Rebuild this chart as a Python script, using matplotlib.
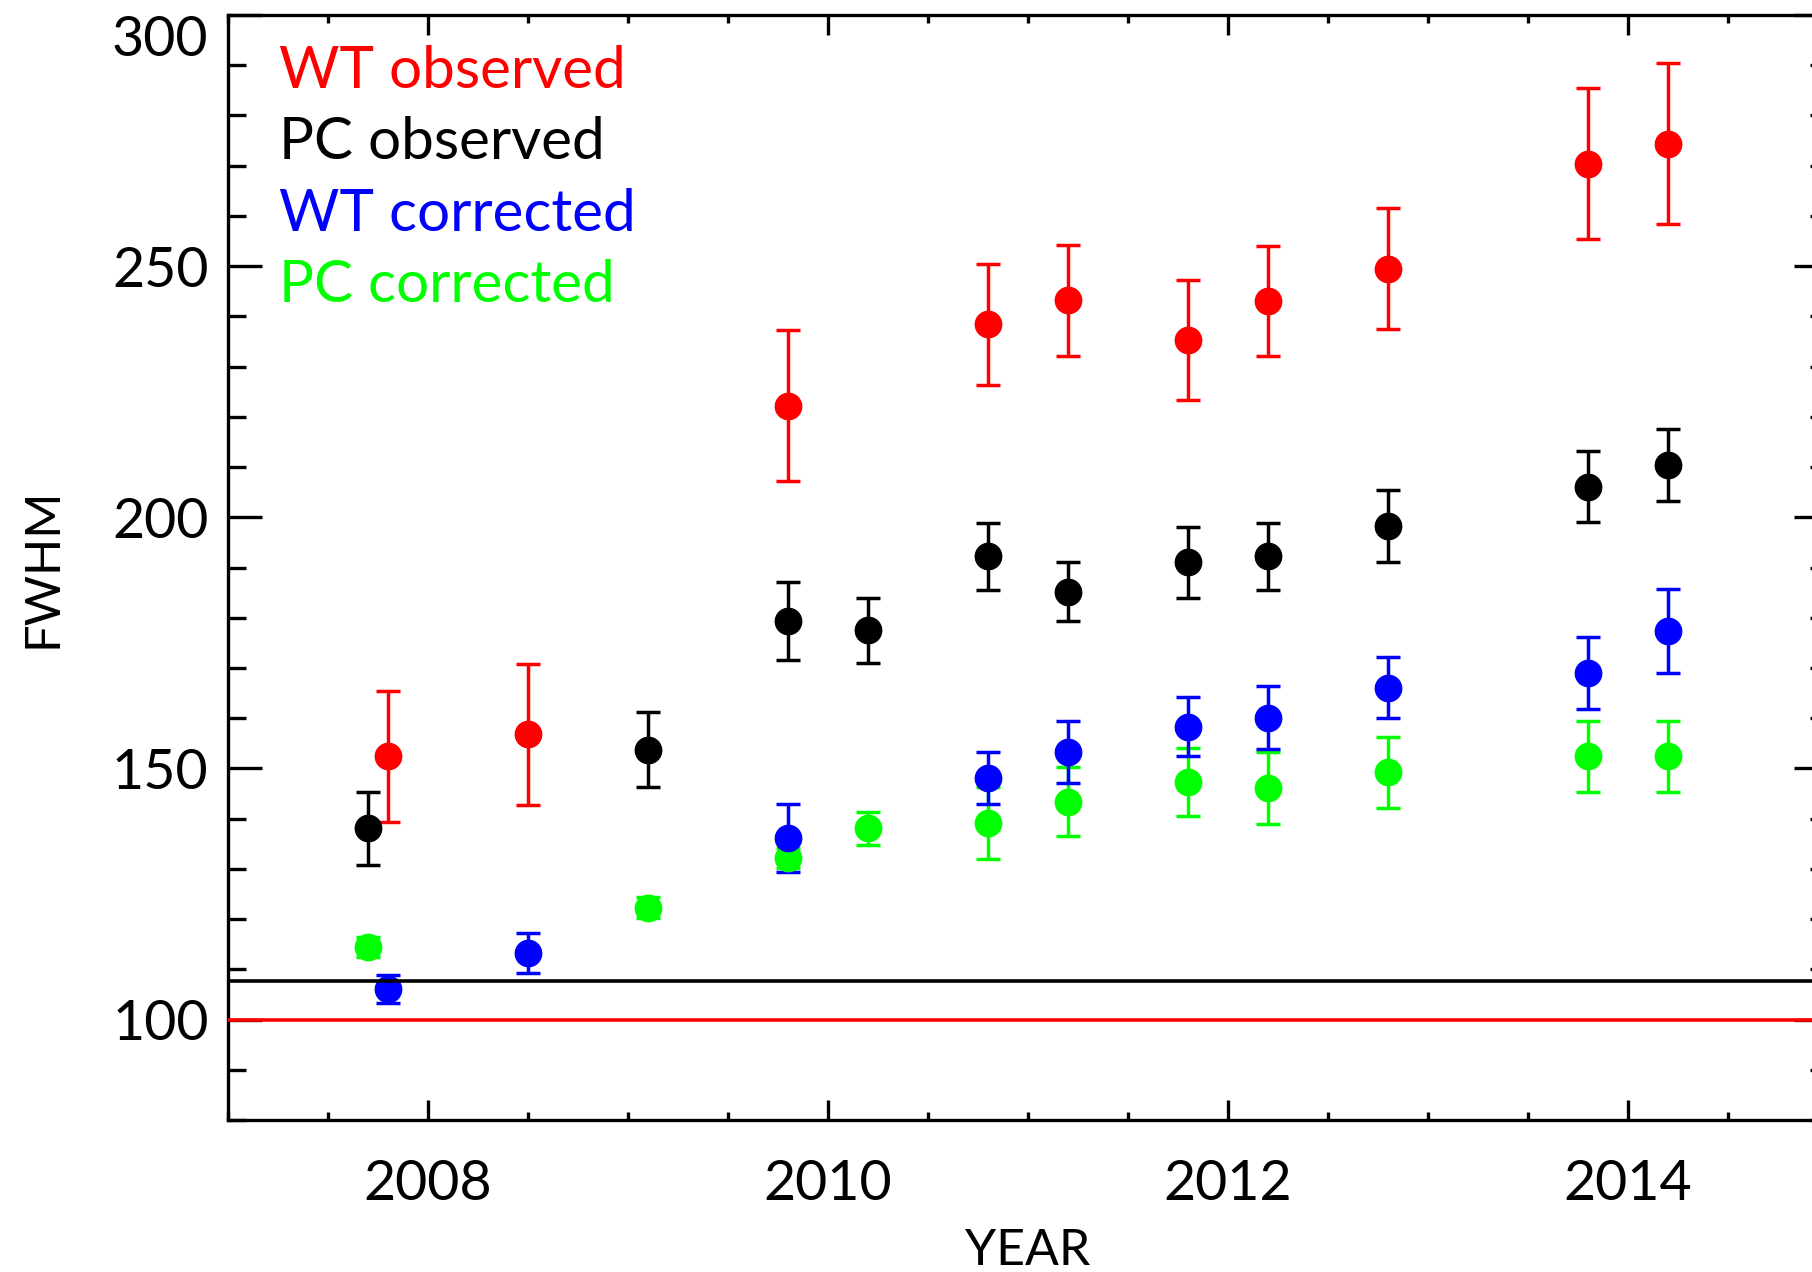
import matplotlib.pyplot as plt
from matplotlib.ticker import MultipleLocator, FormatStrFormatter

plt.rcParams['font.family'] = ['Lato', 'DejaVu Sans']

# WT observed
wt_obs_year = [2007.8, 2008.5, 2009.8, 2010.8, 2011.2, 2011.8, 2012.2, 2012.8, 2013.8, 2014.2]
wt_obs_fwhm = [152.4, 156.8, 222.2, 238.4, 243.2, 235.3, 243.1, 249.5, 270.4, 274.4]
wt_obs_err = [13.0, 14.0, 15.0, 12.0, 11.0, 12.0, 11.0, 12.0, 15.0, 16.0]

# PC observed
pc_obs_year = [2007.7, 2009.1, 2009.8, 2010.2, 2010.8, 2011.2, 2011.8, 2012.2, 2012.8, 2013.8, 2014.2]
pc_obs_fwhm = [138.1, 153.7, 179.3, 177.5, 192.2, 185.2, 191.0, 192.2, 198.2, 206.1, 210.4]
pc_obs_err = [7.3, 7.5, 7.8, 6.5, 6.7, 5.8, 7.0, 6.6, 7.2, 7.1, 7.1]

# WT corrected
wt_cor_year = wt_obs_year
wt_cor_fwhm = [106.1, 113.2, 136.1, 148.1, 153.3, 158.3, 160.1, 166.1, 169.0, 177.3]
wt_cor_err = [2.8, 4.0, 6.8, 5.2, 6.2, 5.9, 6.3, 6.0, 7.2, 8.4]

# PC corrected
pc_cor_year = pc_obs_year
pc_cor_fwhm = [114.4, 122.3, 132.1, 138.1, 139.1, 143.4, 147.3, 146.1, 149.2, 152.4, 152.4]
pc_cor_err = [2.0, 2.0, 2.0, 3.3, 7.2, 6.8, 6.7, 7.2, 7.0, 7.0, 7.0]

legend_labels = ['WT observed', 'PC observed', 'WT corrected', 'PC corrected']
legend_colors = ['#ff0000', 'black', '#0000ff', '#00ff00']

ref_level = 100
upper_level = 107.7

fig = plt.figure(figsize=(18.12, 12.72), dpi=100)
ax = fig.add_axes([228/1812, 1 - 1120/1272, 1600/1812, 1105/1272])

style = dict(fmt='o', ms=19, elinewidth=2.5, capsize=8.6, capthick=2.5)
ax.errorbar(pc_obs_year, pc_obs_fwhm, yerr=pc_obs_err, color='black', **style)
ax.errorbar(wt_obs_year, wt_obs_fwhm, yerr=wt_obs_err, color='#ff0000', **style)
ax.errorbar(pc_cor_year, pc_cor_fwhm, yerr=pc_cor_err, color='#00ff00', **style)
ax.errorbar(wt_cor_year, wt_cor_fwhm, yerr=wt_cor_err, color='#0000ff', **style)

ax.axhline(ref_level, color='#ff0000', lw=2.6, zorder=5)
ax.axhline(upper_level, color='black', lw=2.6, zorder=5)

ax.set_xlim(2007, 2015)
ax.set_ylim(80, 300)
ax.xaxis.set_major_locator(MultipleLocator(2))
ax.xaxis.set_minor_locator(MultipleLocator(0.5))
ax.xaxis.set_major_formatter(FormatStrFormatter('%d'))
ax.set_yticks([100, 150, 200, 250, 300])
ax.yaxis.set_minor_locator(MultipleLocator(10))

for s in ax.spines.values():
    s.set_linewidth(2.4)
ax.tick_params(which='both', direction='in', top=True, right=True, width=2.4,
               labelsize=40)
ax.tick_params(axis='x', which='major', length=14.4, pad=28)
ax.tick_params(axis='x', which='minor', length=6)
ax.tick_params(axis='y', which='major', length=24.5, pad=14)
ax.tick_params(axis='y', which='minor', length=13)

ax.set_xlabel('YEAR', fontsize=36)
ax.set_ylabel('FWHM', fontsize=35)
ax.xaxis.set_label_coords(0.5, -0.098)
ax.yaxis.set_label_coords(-0.102, 0.5)

for i, (lab, col) in enumerate(zip(legend_labels, legend_colors)):
    ax.text(0.032, 0.934 - i * 0.0647, lab, color=col, fontsize=42,
            transform=ax.transAxes, va='baseline', ha='left')

# keep the top label inside the figure
fig.canvas.draw()
for tick in ax.yaxis.get_major_ticks():
    if tick.label1.get_text() == '300':
        tick.label1.set_va('top')

fig.savefig('out.png', dpi=100)
